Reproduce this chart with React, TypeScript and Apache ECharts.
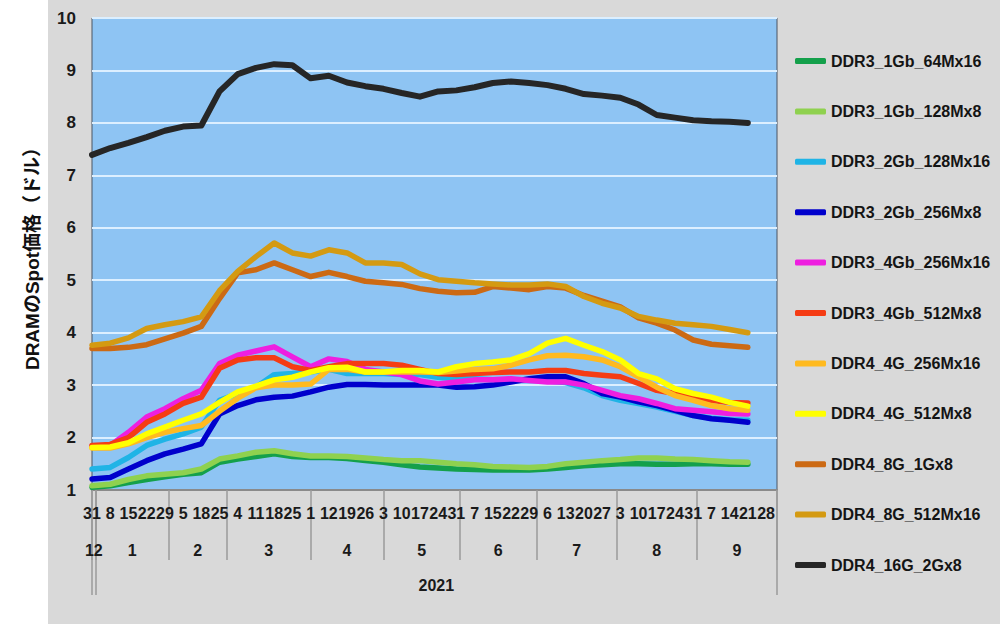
import React, { useEffect, useRef } from 'react';
import * as echarts from 'echarts';

// x positions are business-day indices (0 = 12/31)
const dataIdx = [0, 5, 10, 15, 20, 25, 30, 35, 40, 45, 50, 55, 60, 65, 70, 75, 80, 85, 90, 95, 100, 105, 110, 115, 120, 125, 130, 135, 140, 145, 150, 155, 160, 165, 170, 175, 180];
const dayLabelIdx = [0, 5, 10, 15, 20, 25, 30, 35, 40, 45, 50, 55, 60, 65, 70, 75, 80, 85, 90, 95, 100, 105, 110, 115, 120, 125, 130, 135, 140, 145, 150, 155, 160, 165, 170, 175, 180, 185];
const dayLabels = ['31', '8', '15', '22', '29', '5', '18', '25', '4', '11', '18', '25', '1', '12', '19', '26', '3', '10', '17', '24', '31', '7', '15', '22', '29', '6', '13', '20', '27', '3', '10', '17', '24', '31', '7', '14', '21', '28'];
const monthBounds = [0, 1, 21, 37, 60, 80, 101, 122, 144, 166, 188];
const monthNames = ['12', '1', '2', '3', '4', '5', '6', '7', '8', '9'];
const yearBounds = [0, 1, 188];
const yearName = '2021';

const seriesNames = ['DDR3_1Gb_64Mx16', 'DDR3_1Gb_128Mx8', 'DDR3_2Gb_128Mx16', 'DDR3_2Gb_256Mx8', 'DDR3_4Gb_256Mx16', 'DDR3_4Gb_512Mx8', 'DDR4_4G_256Mx16', 'DDR4_4G_512Mx8', 'DDR4_8G_1Gx8', 'DDR4_8G_512Mx16', 'DDR4_16G_2Gx8'];
const seriesColors = ['#14a04b', '#8fd14f', '#1fb4e6', '#0000cc', '#ee1fe0', '#f53c14', '#ffba1f', '#ffff00', '#cc6a14', '#d49a12', '#262626'];

const ddr3_1g_64 = [1.05, 1.08, 1.14, 1.2, 1.25, 1.3, 1.33, 1.53, 1.59, 1.64, 1.69, 1.64, 1.62, 1.62, 1.6, 1.56, 1.53, 1.48, 1.44, 1.42, 1.4, 1.39, 1.38, 1.38, 1.38, 1.4, 1.43, 1.46, 1.48, 1.5, 1.5, 1.49, 1.49, 1.5, 1.5, 1.49, 1.49];
const ddr3_1g_128 = [1.08, 1.11, 1.2, 1.27, 1.3, 1.33, 1.4, 1.59, 1.65, 1.72, 1.75, 1.69, 1.65, 1.65, 1.64, 1.61, 1.58, 1.56, 1.56, 1.53, 1.5, 1.48, 1.45, 1.44, 1.43, 1.45, 1.5, 1.53, 1.56, 1.58, 1.61, 1.61, 1.59, 1.58, 1.56, 1.54, 1.53];
const ddr3_2g_128 = [1.4, 1.43, 1.62, 1.85, 1.97, 2.07, 2.2, 2.71, 2.84, 2.96, 3.2, 3.22, 3.25, 3.3, 3.22, 3.22, 3.22, 3.2, 3.2, 3.15, 3.12, 3.12, 3.1, 3.1, 3.1, 3.08, 3.05, 2.95, 2.8, 2.71, 2.65, 2.58, 2.5, 2.42, 2.37, 2.34, 2.33];
const ddr3_2g_256 = [1.21, 1.24, 1.4, 1.56, 1.69, 1.78, 1.88, 2.45, 2.61, 2.72, 2.77, 2.79, 2.87, 2.96, 3.01, 3.01, 3.0, 3.0, 3.0, 3.0, 2.96, 2.97, 3.0, 3.06, 3.12, 3.16, 3.16, 3.03, 2.84, 2.77, 2.68, 2.61, 2.52, 2.42, 2.36, 2.33, 2.29];
const ddr3_4g_256 = [1.83, 1.85, 2.1, 2.39, 2.55, 2.74, 2.9, 3.41, 3.57, 3.65, 3.73, 3.54, 3.35, 3.5, 3.45, 3.3, 3.25, 3.2, 3.08, 3.02, 3.06, 3.1, 3.1, 3.12, 3.09, 3.06, 3.06, 3.0, 2.9, 2.8, 2.74, 2.65, 2.55, 2.52, 2.49, 2.46, 2.45];
const ddr3_4g_512 = [1.85, 1.87, 2.0, 2.29, 2.45, 2.65, 2.77, 3.32, 3.48, 3.52, 3.52, 3.35, 3.28, 3.35, 3.41, 3.41, 3.41, 3.38, 3.3, 3.22, 3.2, 3.22, 3.24, 3.25, 3.25, 3.28, 3.28, 3.22, 3.19, 3.16, 3.03, 2.9, 2.84, 2.77, 2.71, 2.67, 2.66];
const ddr4_4g_256 = [1.8, 1.8, 1.88, 2.0, 2.1, 2.17, 2.23, 2.5, 2.75, 2.95, 3.0, 3.0, 3.02, 3.3, 3.3, 3.25, 3.25, 3.25, 3.25, 3.24, 3.27, 3.3, 3.31, 3.38, 3.48, 3.56, 3.57, 3.54, 3.48, 3.35, 3.16, 2.96, 2.8, 2.71, 2.61, 2.55, 2.52];
const ddr4_4g_512 = [1.81, 1.82, 1.9, 2.07, 2.2, 2.33, 2.45, 2.67, 2.87, 2.98, 3.1, 3.15, 3.25, 3.33, 3.34, 3.25, 3.25, 3.28, 3.28, 3.25, 3.35, 3.41, 3.44, 3.48, 3.6, 3.8, 3.89, 3.76, 3.64, 3.48, 3.22, 3.12, 2.93, 2.84, 2.77, 2.67, 2.6];
const ddr4_8g_1g = [3.7, 3.7, 3.72, 3.77, 3.88, 3.99, 4.12, 4.65, 5.14, 5.2, 5.33, 5.2, 5.07, 5.15, 5.07, 4.98, 4.95, 4.92, 4.84, 4.79, 4.76, 4.77, 4.88, 4.85, 4.82, 4.88, 4.85, 4.71, 4.6, 4.49, 4.28, 4.18, 4.05, 3.86, 3.78, 3.75, 3.72];
const ddr4_8g_512 = [3.76, 3.8, 3.9, 4.08, 4.15, 4.21, 4.3, 4.8, 5.17, 5.45, 5.71, 5.52, 5.46, 5.58, 5.52, 5.33, 5.33, 5.3, 5.12, 5.01, 4.98, 4.95, 4.93, 4.91, 4.91, 4.93, 4.88, 4.69, 4.56, 4.47, 4.31, 4.24, 4.18, 4.15, 4.12, 4.06, 4.0];
const ddr4_16g_2g = [7.39, 7.52, 7.62, 7.73, 7.85, 7.93, 7.95, 8.6, 8.93, 9.05, 9.12, 9.1, 8.85, 8.9, 8.77, 8.7, 8.65, 8.57, 8.5, 8.6, 8.62, 8.68, 8.76, 8.79, 8.76, 8.72, 8.65, 8.55, 8.52, 8.48, 8.35, 8.15, 8.1, 8.05, 8.03, 8.02, 8.0];

const seriesValues = [ddr3_1g_64, ddr3_1g_128, ddr3_2g_128, ddr3_2g_256, ddr3_4g_256, ddr3_4g_512, ddr4_4g_256, ddr4_4g_512, ddr4_8g_1g, ddr4_8g_512, ddr4_16g_2g];

const FONT = '"Liberation Sans", Arial, "Noto Sans CJK JP", sans-serif';

export default function App() {
  const ref = useRef<HTMLDivElement>(null);

  useEffect(() => {
    document.body.style.margin = '0';
    if (!ref.current) return;
    const chart = echarts.init(ref.current, null, { renderer: 'svg' });
    const monthCenters = monthNames.map((_, i) => (monthBounds[i] + monthBounds[i + 1]) / 2);
    const yearCenter = (yearBounds[1] + yearBounds[2]) / 2;
    const labelText = { fontFamily: FONT, fontSize: 16, fontWeight: 'bold' as const, color: '#1a1a1a' };
    const sepLine = { color: '#9a9a9a', width: 1.5 };

    chart.setOption({
      animation: false,
      textStyle: { fontFamily: FONT },
      grid: {
        left: 92, top: 18, width: 685, height: 472,
        show: true, backgroundColor: '#8ec4f3', borderColor: '#4a5563', borderWidth: 1,
        outerBoundsMode: 'none',
      },
      legend: {
        orient: 'vertical', left: 795, top: 51, padding: 0,
        itemWidth: 31, itemHeight: 6, itemGap: 30.4, icon: 'roundRect',
        textStyle: { fontFamily: FONT, fontSize: 16, fontWeight: 'bold', color: '#141414', lineHeight: 20 },
        data: seriesNames,
      },
      xAxis: [
        {
          type: 'value', min: 0, max: 188,
          axisLine: { show: true, lineStyle: { color: '#8a8a8a', width: 2 } },
          axisTick: { show: false },
          splitLine: { show: false },
          axisLabel: {
            ...labelText, margin: 15, hideOverlap: false,
            customValues: dayLabelIdx,
            formatter: (v: number) => dayLabels[dayLabelIdx.indexOf(v)] ?? '',
          },
        },
        {
          type: 'value', min: 0, max: 188, position: 'bottom',
          axisLine: { show: false },
          axisTick: { show: true, customValues: monthBounds, length: 70, lineStyle: sepLine },
          splitLine: { show: false },
          axisLabel: {
            ...labelText, margin: 52, hideOverlap: false,
            customValues: monthCenters,
            formatter: (v: number) => monthNames[monthCenters.indexOf(v)] ?? '',
          },
        },
        {
          type: 'value', min: 0, max: 188, position: 'bottom',
          axisLine: { show: false },
          axisTick: { show: true, customValues: yearBounds, length: 105, lineStyle: sepLine },
          splitLine: { show: false },
          axisLabel: {
            ...labelText, margin: 87, hideOverlap: false,
            customValues: [yearCenter],
            formatter: () => yearName,
          },
        },
      ],
      yAxis: {
        type: 'value', min: 1, max: 10, interval: 1,
        axisLine: { show: false },
        axisTick: { show: false },
        axisLabel: { ...labelText, fontSize: 17, margin: 16 },
        splitLine: { lineStyle: { color: '#dcefff', width: 2 } },
        name: 'DRAMのSpot価格（ドル）',
        nameLocation: 'middle', nameGap: 50,
        nameTextStyle: { fontFamily: FONT, fontSize: 19, fontWeight: 'bold', color: '#111' },
      },
      series: seriesNames.map((name, i) => ({
        name,
        type: 'line',
        xAxisIndex: 0,
        yAxisIndex: 0,
        data: dataIdx.map((x, j) => [x, seriesValues[i][j]]),
        symbol: 'none',
        lineStyle: { width: i === 10 ? 6 : 5.5, color: seriesColors[i], cap: 'round', join: 'round' },
        itemStyle: { color: seriesColors[i] },
        emphasis: { disabled: true },
      })),
    });
    return () => chart.dispose();
  }, []);

  return (
    <div
      ref={ref}
      style={{ width: 1000, height: 624, background: 'linear-gradient(to right, #ffffff 48px, #d9d9d9 48px)' }}
    />
  );
}
